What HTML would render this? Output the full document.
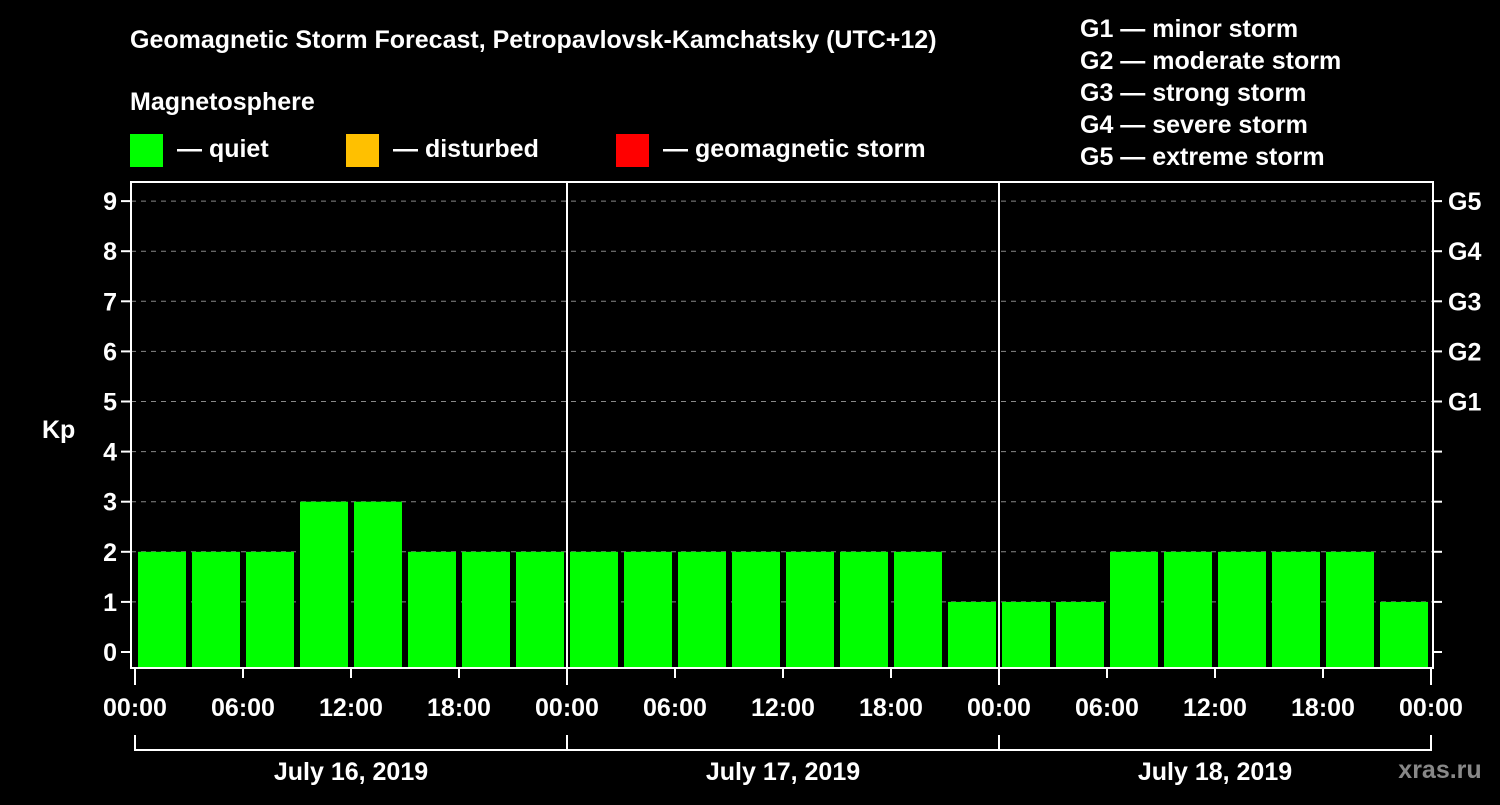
<!DOCTYPE html>
<html><head><meta charset="utf-8"><style>
body{margin:0;background:#000;}
svg text{font-family:"Liberation Sans",sans-serif;font-weight:bold;fill:#fff;}
</style></head><body>
<svg width="1500" height="800" viewBox="0 0 1500 800">
<rect width="1500" height="800" fill="#000"/>
<text x="130" y="48" font-size="25">Geomagnetic Storm Forecast, Petropavlovsk-Kamchatsky (UTC+12)</text>
<text x="130" y="110" font-size="25">Magnetosphere</text>
<g>
<rect x="130" y="134" width="33" height="33" fill="#00ff00"/>
<text x="177" y="157" font-size="25">— quiet</text>
<rect x="346" y="134" width="33" height="33" fill="#ffc000"/>
<text x="393" y="157" font-size="25">— disturbed</text>
<rect x="616" y="134" width="33" height="33" fill="#ff0000"/>
<text x="663" y="157" font-size="25">— geomagnetic storm</text>
</g>
<g font-size="25">
<text x="1080" y="37">G1 — minor storm</text>
<text x="1080" y="69">G2 — moderate storm</text>
<text x="1080" y="101">G3 — strong storm</text>
<text x="1080" y="133">G4 — severe storm</text>
<text x="1080" y="165">G5 — extreme storm</text>
</g>
<g id="plot"></g>
<text x="42" y="438" font-size="25">Kp</text>
<text x="1440" y="778" font-size="25" fill="#888" style="fill:#888" text-anchor="middle">xras.ru</text>
</svg>
<script>
const kpValues=[2,2,2,3,3,2,2,2, 2,2,2,2,2,2,2,1, 1,1,2,2,2,2,2,1];
const yTicks=[0,1,2,3,4,5,6,7,8,9];
const gLabels=[[5,"G1"],[6,"G2"],[7,"G3"],[8,"G4"],[9,"G5"]];
const hourLabels=["00:00","06:00","12:00","18:00","00:00","06:00","12:00","18:00","00:00","06:00","12:00","18:00","00:00"];
const dayLabels=["July 16, 2019","July 17, 2019","July 18, 2019"];
const NS="http://www.w3.org/2000/svg";
const g=document.getElementById('plot');
const X0=135,PXH=18,Y0=652,PXU=50.1,BOT=668,TOP=182,L=131,R=1433;
const xs=h=>X0+h*PXH, ys=v=>Y0-v*PXU;
function mk(t,a,p){const e=document.createElementNS(NS,t);for(const k in a)e.setAttribute(k,a[k]);(p||g).appendChild(e);return e;}
function color(v){return v>=5?"#ff0000":v>=4?"#ffc000":"#00ff00";}
yTicks.forEach(v=>{
 if(v>0){const l=mk('line',{x1:L,x2:R,y1:ys(v),y2:ys(v),stroke:'#888','stroke-width':1,'stroke-dasharray':'5,5'});
 
 }
 const t=mk('line',{x1:L-10,x2:L,y1:ys(v),y2:ys(v),stroke:'#fff','stroke-width':2});
 
 
 const t2=mk('line',{x1:R,x2:R+9,y1:ys(v),y2:ys(v),stroke:'#fff','stroke-width':2});
 
 
 const tx=mk('text',{x:L-14,y:ys(v)+9,'font-size':25,'text-anchor':'end'});tx.textContent=v;
 
 
});
gLabels.forEach(([v,s])=>{const tx=mk('text',{x:1448,y:ys(v)+9,'font-size':25});tx.textContent=s;
 
 });
kpValues.forEach((v,i)=>{
 const x=xs(i*3)+3,w=3*PXH-6,y=ys(v);
 const b=mk('rect',{x:x,y:y,width:w,height:BOT-y,fill:color(v)});
 
 
});
[1,2].forEach(d=>{const l=mk('line',{x1:xs(d*24),x2:xs(d*24),y1:TOP,y2:BOT,stroke:'#fff','stroke-width':2});
 
 });
const fr=mk('rect',{x:L,y:TOP,width:R-L,height:BOT-TOP,fill:'none',stroke:'#fff','stroke-width':2});


hourLabels.forEach((s,i)=>{
 const x=xs(i*6);
 const t=mk('line',{x1:x,x2:x,y1:BOT,y2:i%4==0?685:678,stroke:'#fff','stroke-width':2});
 
 
 const tx=mk('text',{x:x,y:716,'font-size':25,'text-anchor':'middle'});tx.textContent=s;
 
 
});
const br=mk('path',{d:`M${xs(0)},735V750H${xs(72)}V735M${xs(24)},735V750M${xs(48)},735V750`,stroke:'#fff','stroke-width':2,fill:'none'});


dayLabels.forEach((s,i)=>{const tx=mk('text',{x:xs(i*24+12),y:780,'font-size':25,'text-anchor':'middle'});tx.textContent=s;
 
 });
</script>
</body></html>
